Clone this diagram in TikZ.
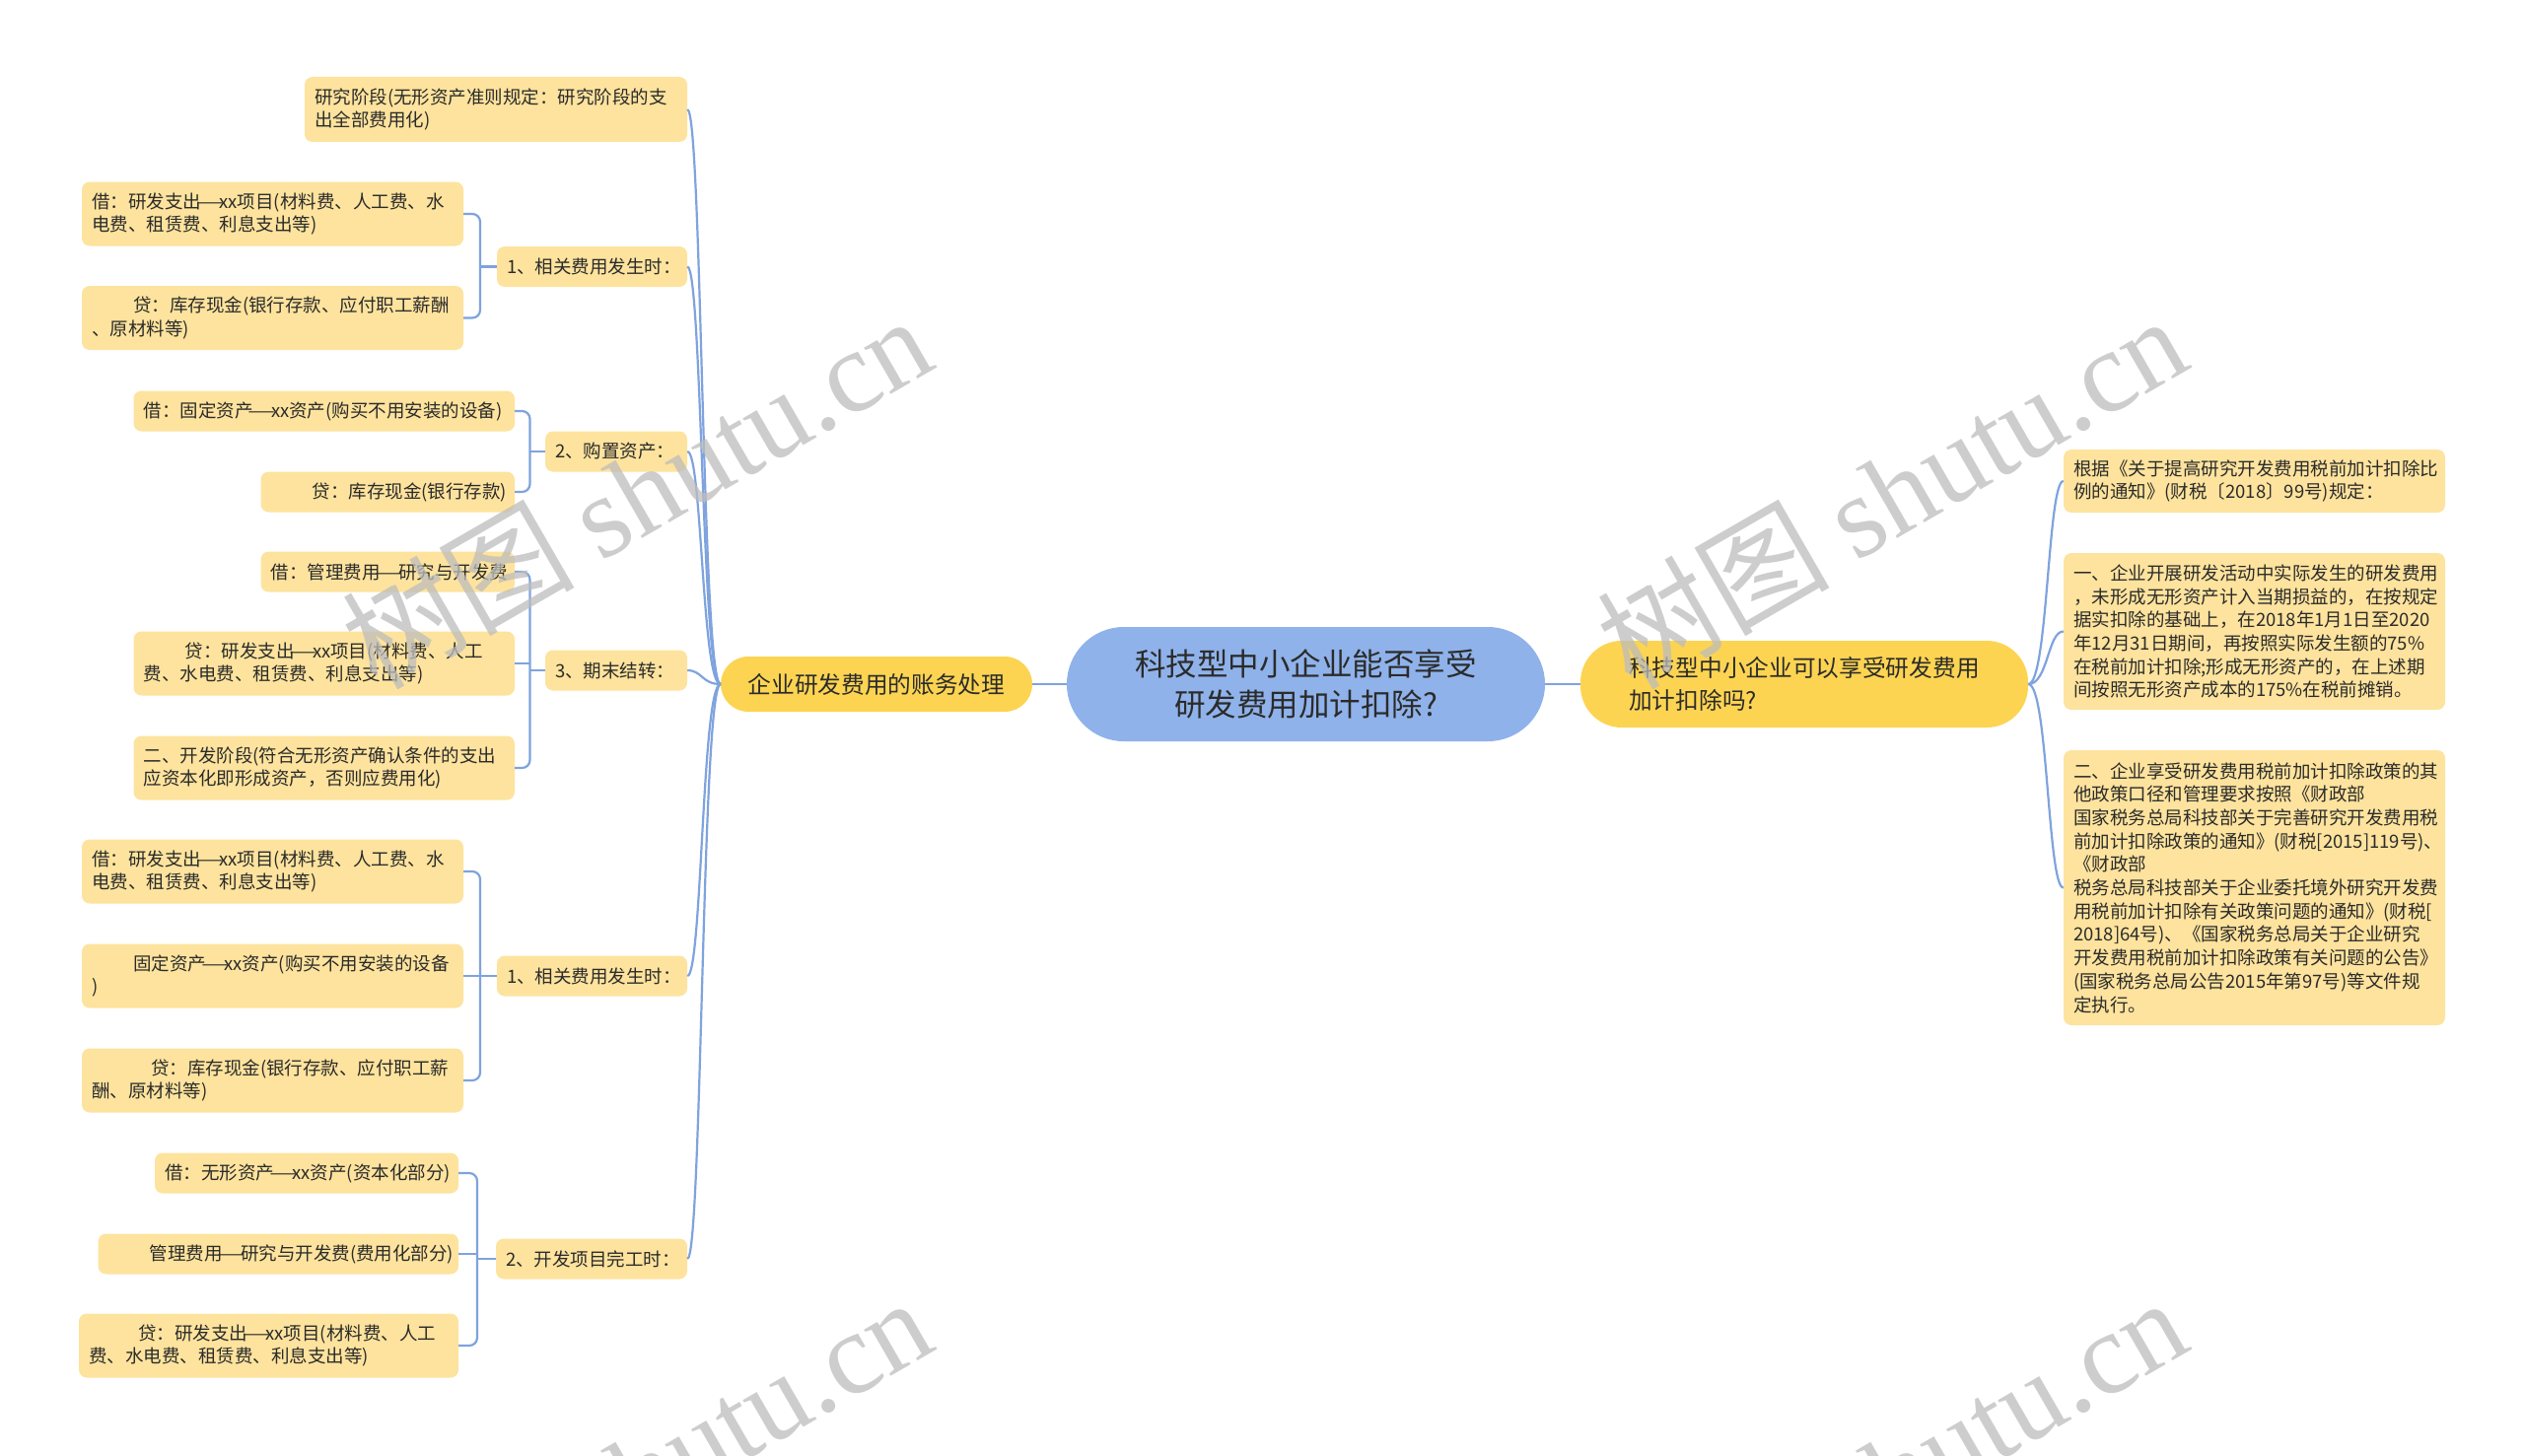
\documentclass[tikz,border=0pt]{standalone}
\usepackage{fontspec}
\setmainfont{Noto Sans CJK SC}
\newfontfamily\wmlatin{Liberation Serif}
\usetikzlibrary{calc}
\definecolor{leafc}{HTML}{FDE39D}
\definecolor{midc}{HTML}{FCD452}
\definecolor{rootc}{HTML}{8FB2EA}
\definecolor{connc}{HTML}{7FA3DD}
\definecolor{txtc}{HTML}{2B2B2B}
\definecolor{wmc}{HTML}{BDBDBD}
\newcommand\ldash{\makebox[1em][c]{\scalebox{1.7}[1]{—}}}
\begin{document}
\begin{tikzpicture}[x=1pt,y=-1pt,
  box/.style={rectangle, rounded corners=8pt, fill=leafc, inner xsep=10pt, inner ysep=0pt,
    font=\fontsize{18.5pt}{23.7pt}\selectfont, text=txtc, align=left},
  lvtwo/.style={box, minimum height=41pt},
  midbox/.style={rectangle, fill=midc, inner sep=0pt, text=txtc},
  conn/.style={draw=connc, line width=2.2pt},
  wm/.style={rotate=30, text=wmc, text opacity=0.75, inner sep=0pt,
    font=\fontsize{118pt}{118pt}\selectfont}]
\path[use as bounding box, fill=white] (0,0) rectangle (2560,1477);

% root and first level
\node[rectangle, rounded corners=58pt, fill=rootc, minimum width=485pt, minimum height=116pt,
  text=txtc, align=center, font=\fontsize{31.5pt}{41pt}\selectfont] (root) at (1324.5,694)
  {科技型中小企业能否享受\\研发费用加计扣除?};
\node[midbox, rounded corners=28pt, minimum width=316pt, minimum height=56pt,
  font=\fontsize{23.7pt}{30pt}\selectfont] (L) at (889,694) {企业研发费用的账务处理};
\node[midbox, rounded corners=42pt, minimum width=454pt, minimum height=88pt, align=left,
  font=\fontsize{23.7pt}{33pt}\selectfont] (R) at (1830,694)
  {科技型中小企业可以享受研发费用\\加计扣除吗?};

% right leaves
\node[box, minimum width=387pt, text width=367pt, minimum height=64pt] (R1) at (2286.5,488)
  {根据《关于提高研究开发费用税前加计扣除比\\例的通知》(财税〔2018〕99号)规定：};
\node[box, minimum width=387pt, text width=367pt, minimum height=159pt] (R2) at (2286.5,640.5)
  {一、企业开展研发活动中实际发生的研发费用\\，未形成无形资产计入当期损益的，在按规定\\据实扣除的基础上，在2018年1月1日至2020\\年12月31日期间，再按照实际发生额的75\%\\在税前加计扣除;形成无形资产的，在上述期\\间按照无形资产成本的175\%在税前摊销。};
\node[box, minimum width=387pt, text width=367pt, minimum height=279pt] (R3) at (2286.5,900.5)
  {二、企业享受研发费用税前加计扣除政策的其\\他政策口径和管理要求按照《财政部\\国家税务总局科技部关于完善研究开发费用税\\前加计扣除政策的通知》(财税[2015]119号)、\\《财政部\\税务总局科技部关于企业委托境外研究开发费\\用税前加计扣除有关政策问题的通知》(财税[\\2018]64号)、《国家税务总局关于企业研究\\开发费用税前加计扣除政策有关问题的公告》\\(国家税务总局公告2015年第97号)等文件规\\定执行。};

% left second level
\node[box, minimum width=388pt, text width=368pt, minimum height=66pt] (A) at (503,111)
  {研究阶段(无形资产准则规定：研究阶段的支\\出全部费用化)};
\node[lvtwo, minimum width=193pt, text width=173pt] (B1) at (600.5,270.5) {1、相关费用发生时：};
\node[lvtwo, minimum width=144pt, text width=124pt] (B2) at (625,458) {2、购置资产：};
\node[lvtwo, minimum width=144pt, text width=124pt] (B3) at (625,680) {3、期末结转：};
\node[lvtwo, minimum width=193pt, text width=173pt] (B4) at (600.5,990) {1、相关费用发生时：};
\node[lvtwo, minimum width=194pt, text width=174pt] (B5) at (600,1277) {2、开发项目完工时：};

% leaves of B1
\node[box, minimum width=387pt, text width=367pt, minimum height=65pt] (B1a) at (276.5,217)
  {借：研发支出\ldash xx项目(材料费、人工费、水\\电费、租赁费、利息支出等)};
\node[box, minimum width=387pt, text width=367pt, minimum height=65pt] (B1b) at (276.5,322.5)
  {\hspace*{42pt}贷：库存现金(银行存款、应付职工薪酬\\、原材料等)};
% leaves of B2
\node[box, minimum width=386.5pt, text width=366.5pt, minimum height=41pt] (B2a) at (328.75,417)
  {借：固定资产\ldash xx资产(购买不用安装的设备)};
\node[box, minimum width=257.5pt, text width=237.5pt, minimum height=41pt] (B2b) at (393.25,499)
  {\hspace*{42pt}贷：库存现金(银行存款)};
% leaves of B3
\node[box, minimum width=257.5pt, text width=237.5pt, minimum height=41pt] (B3a) at (393.25,580)
  {借：管理费用\ldash 研究与开发费};
\node[box, minimum width=386.5pt, text width=366.5pt, minimum height=65pt] (B3b) at (328.75,673)
  {\hspace*{42pt}贷：研发支出\ldash xx项目(材料费、人工\\费、水电费、租赁费、利息支出等)};
\node[box, minimum width=386.5pt, text width=366.5pt, minimum height=65pt] (B3c) at (328.75,779)
  {二、开发阶段(符合无形资产确认条件的支出\\应资本化即形成资产，否则应费用化)};
% leaves of B4
\node[box, minimum width=387pt, text width=367pt, minimum height=65pt] (B4a) at (276.5,884)
  {借：研发支出\ldash xx项目(材料费、人工费、水\\电费、租赁费、利息支出等)};
\node[box, minimum width=387pt, text width=367pt, minimum height=65pt] (B4b) at (276.5,990)
  {\hspace*{42pt}固定资产\ldash xx资产(购买不用安装的设备\\)};
\node[box, minimum width=387pt, text width=367pt, minimum height=65pt] (B4c) at (276.5,1096)
  {\hspace*{60pt}贷：库存现金(银行存款、应付职工薪\\酬、原材料等)};
% leaves of B5
\node[box, minimum width=308pt, text width=288pt, minimum height=41pt] (B5a) at (311,1190)
  {借：无形资产\ldash xx资产(资本化部分)};
\node[box, minimum width=365.4pt, text width=345.4pt, minimum height=41pt] (B5b) at (282.3,1272)
  {\hspace*{42pt}管理费用\ldash 研究与开发费(费用化部分)};
\node[box, minimum width=385pt, text width=365pt, minimum height=65pt] (B5c) at (272.5,1365)
  {\hspace*{50pt}贷：研发支出\ldash xx项目(材料费、人工\\费、水电费、租赁费、利息支出等)};

% root connectors
\draw[conn] (root.west) -- (L.east);
\draw[conn] (root.east) -- (R.west);

% left first-level curves
\foreach \c in {A,B1,B2,B3,B4,B5}
  \draw[conn] (L.west) .. controls ($(L.west)+(-19,0)$) and ($(\c.east)+(15,0)$) .. (\c.east);
% right first-level curves
\foreach \c in {R1,R2,R3}
  \draw[conn] (R.east) .. controls ($(R.east)+(20,0)$) and ($(\c.west)+(-16,0)$) .. (\c.west);

% brackets
\coordinate (k1) at ($(B1.west)!0.5!(B1.west -| B1a.east)$);
\coordinate (k2) at ($(B2.west)!0.5!(B2.west -| B2a.east)$);
\coordinate (k3) at ($(B3.west)!0.5!(B3.west -| B3a.east)$);
\coordinate (k4) at ($(B4.west)!0.5!(B4.west -| B4a.east)$);
\coordinate (k5) at ($(B5.west)!0.5!(B5.west -| B5a.east)$);
\draw[conn, rounded corners=8pt] (B1a.east) -| (k1) |- (B1b.east);
\draw[conn] (B1.west) -- (k1);
\draw[conn, rounded corners=8pt] (B2a.east) -| (k2) |- (B2b.east);
\draw[conn] (B2.west) -- (k2);
\draw[conn, rounded corners=8pt] (B3a.east) -| (k3) |- (B3c.east);
\draw[conn] (B3.west) -- (k3);
\draw[conn] (B3b.east) -- (B3b.east -| k3);
\draw[conn, rounded corners=8pt] (B4a.east) -| (k4) |- (B4c.east);
\draw[conn] (B4.west) -- (k4);
\draw[conn] (B4b.east) -- (B4b.east -| k4);
\draw[conn, rounded corners=8pt] (B5a.east) -| (k5) |- (B5c.east);
\draw[conn] (B5.west) -- (k5);
\draw[conn] (B5b.east) -- (B5b.east -| k5);

% watermarks
\begin{scope}
\clip (0,0) rectangle (2560,1477);
\node[wm] (wm1) at (645,498) {树图 {\wmlatin shutu.cn}};
\node[wm] (wm2) at (1918,498) {树图 {\wmlatin shutu.cn}};
\node[wm] (wm3) at (645,1494) {树图 {\wmlatin shutu.cn}};
\node[wm] (wm4) at (1918,1494) {树图 {\wmlatin shutu.cn}};
\end{scope}
\end{tikzpicture}
\end{document}
